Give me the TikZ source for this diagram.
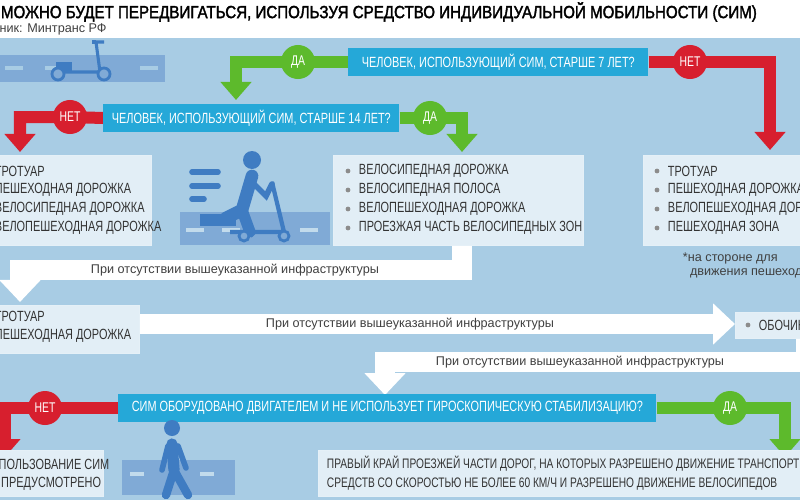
\documentclass[tikz,border=0pt]{standalone}
\usepackage{fontspec}
\setmainfont{Liberation Sans}
\newfontfamily\cond[FakeStretch=0.74]{Liberation Sans}
\newfontfamily\condb[FakeStretch=0.86,FakeBold=2]{Liberation Sans}
\usetikzlibrary{arrows.meta,backgrounds}
\definecolor{bgblue}{HTML}{A8CCE4}
\definecolor{boxblue}{HTML}{E2EEF6}
\definecolor{qblue}{HTML}{25A8D8}
\definecolor{icon}{HTML}{3F7CC2}
\definecolor{road}{HTML}{80AAD6}
\definecolor{ggreen}{HTML}{5DBA2C}
\definecolor{rred}{HTML}{D71F2E}
\tikzset{
	question/.style={fill=qblue, text=white, font=\cond\fontsize{10.5}{12}\selectfont,
					 inner sep=0pt, minimum height=0.7cm, anchor=west},
	listbox/.style={fill=boxblue, anchor=north west, inner sep=0pt,
					draw=white!70!bgblue, line width=0.4pt},
	item/.style={font=\cond\fontsize{10.5}{13}\selectfont, text=black!80, anchor=west},
	yes/.style={circle, fill=ggreen, text=white, minimum size=0.85cm, inner sep=0pt,
				font=\cond\fontsize{10}{12}\selectfont},
	no/.style={yes, fill=rred},
	garrow/.style={draw=ggreen, line width=0.3cm,
				   -{Triangle[width=0.75cm,length=0.45cm]}},
	rarrow/.style={garrow, draw=rred},
	warrow/.style={draw=white, line width=0.5cm,
				   -{Triangle[width=1.0cm,length=0.55cm]}},
	wtext/.style={font=\fontsize{9}{11}\selectfont, text=black!75},
	bul/.style={circle, fill=black!45, inner sep=0pt, minimum size=0.12cm}
}
\begin{document}
\begin{tikzpicture}[x=0.025cm, y=-0.025cm]
	\useasboundingbox (0,0) rectangle (800,500);
	\clip (0,0) rectangle (800,500);
	% header
	\node[anchor=west, font=\condb\fontsize{12.5}{15}\selectfont] (title) at (-4,12)
		{МОЖНО БУДЕТ ПЕРЕДВИГАТЬСЯ, ИСПОЛЬЗУЯ СРЕДСТВО ИНДИВИДУАЛЬНОЙ МОБИЛЬНОСТИ (СИМ)};
	\node[anchor=west, font=\fontsize{9}{11}\selectfont, text=black!75] (src) at (-12,29)
		{чник: Минтранс РФ};
	\begin{scope}[on background layer]
		\fill[bgblue] (0,38) rectangle (800,500);
	\end{scope}

	% questions
	\node[question, minimum width=7.5cm] (q1) at (348,62)
		{ЧЕЛОВЕК, ИСПОЛЬЗУЮЩИЙ СИМ, СТАРШЕ 7 ЛЕТ?};
	\node[question, minimum width=7.4cm] (q2) at (103,118)
		{ЧЕЛОВЕК, ИСПОЛЬЗУЮЩИЙ СИМ, СТАРШЕ 14 ЛЕТ?};
	\node[question, minimum width=13.45cm] (q3) at (118,408)
		{СИМ ОБОРУДОВАНО ДВИГАТЕЛЕМ И НЕ ИСПОЛЬЗУЕТ ГИРОСКОПИЧЕСКУЮ СТАБИЛИЗАЦИЮ?};

	\node[yes] (da1) at (298,62) {ДА};
	\node[no] (net1) at (690,62) {НЕТ};
	\node[no] (net2) at (70,117) {НЕТ};
	\node[yes] (da2) at (430,118) {ДА};
	\node[no] (net3) at (45,408) {НЕТ};
	\node[yes] (da3) at (730,408) {ДА};

	% boxes
	\node[listbox, minimum width=3.9cm, minimum height=2.25cm] (left1) at (-5,155) {};
	\foreach \t [count=\i] in {ТРОТУАР, ПЕШЕХОДНАЯ ДОРОЖКА, ВЕЛОСИПЕДНАЯ ДОРОЖКА, ВЕЛОПЕШЕХОДНАЯ ДОРОЖКА}
		\node[item] (l1t\i) at (-10,{152+\i*19}) {\t};
	\node[listbox, minimum width=6.25cm, minimum height=2.25cm] (mid1) at (333,155) {};
	\foreach \t [count=\i] in {ВЕЛОСИПЕДНАЯ ДОРОЖКА, ВЕЛОСИПЕДНАЯ ПОЛОСА, ВЕЛОПЕШЕХОДНАЯ ДОРОЖКА, ПРОЕЗЖАЯ ЧАСТЬ ВЕЛОСИПЕДНЫХ ЗОН}{
		\node[bul] (m1b\i) at (348,{152+\i*19}) {};
		\node[item] (m1t\i) at (354,{152+\i*19}) {\t};}
	\node[listbox, minimum width=5cm, minimum height=2.25cm] (right1) at (643,155) {};
	\foreach \t [count=\i] in {ТРОТУАР, ПЕШЕХОДНАЯ ДОРОЖКА, ВЕЛОПЕШЕХОДНАЯ ДОРОЖКА, ПЕШЕХОДНАЯ ЗОНА}{
		\node[bul] (r1b\i) at (657,{152+\i*19}) {};
		\node[item] (r1t\i) at (663,{152+\i*19}) {\t};}
	\node[anchor=north west, align=left, font=\fontsize{9}{10}\selectfont, text=black!75] (note)
		at (678,248) {*на стороне для\\\ \ движения пешеходов};

	\node[listbox, minimum width=3.6cm, minimum height=1.2cm] (left2) at (-5,305) {};
	\node[item] (l2t1) at (-10,316) {ТРОТУАР};
	\node[item] (l2t2) at (-10,336) {ПЕШЕХОДНАЯ ДОРОЖКА};
	\node[listbox, minimum width=2cm, minimum height=0.65cm] (obo) at (735,312) {};
	\node[bul] (ob) at (748,325) {};
	\node[item] (obt) at (754,325) {ОБОЧИНА};

	\node[listbox, minimum width=2.7cm, minimum height=1.15cm] (left3) at (-5,450) {};
	\node[item] (l3t1) at (-22,464) {ИСПОЛЬЗОВАНИЕ СИМ};
	\node[item] (l3t2) at (-22,484) {НЕ ПРЕДУСМОТРЕНО};
	\node[listbox, minimum width=12.5cm, minimum height=1.15cm] (right3) at (318,450) {};
	\node[item, font=\cond\fontsize{9.8}{12}\selectfont] (r3t1) at (322,464) {ПРАВЫЙ КРАЙ ПРОЕЗЖЕЙ ЧАСТИ ДОРОГ, НА КОТОРЫХ РАЗРЕШЕНО ДВИЖЕНИЕ ТРАНСПОРТНЫХ};
	\node[item, font=\cond\fontsize{9.8}{12}\selectfont] (r3t2) at (322,484) {СРЕДСТВ СО СКОРОСТЬЮ НЕ БОЛЕЕ 60 КМ/Ч И РАЗРЕШЕНО ДВИЖЕНИЕ ВЕЛОСИПЕДОВ};

	% white arrow labels
	\node[wtext] (w1) at (235,270) {При отсутствии вышеуказанной инфраструктуры};
	\node[wtext] (w2) at (410,324) {При отсутствии вышеуказанной инфраструктуры};
	\node[wtext] (w3) at (580,362) {При отсутствии вышеуказанной инфраструктуры};

	% connectors
	\begin{scope}[on background layer]
		\coordinate (c1) at (236,100);
		\coordinate (c2) at (770,150);
		\coordinate (c3) at (20,152);
		\coordinate (c4) at (462,152);
		\coordinate (c5) at (5,457);
		\coordinate (c6) at (785,457);
		\coordinate (c7) at (20,302);
		\coordinate (c8) at (385,395);
		\draw[garrow] (q1.west) -- (da1.center) -| (c1);
		\draw[rarrow] (q1.east) -- (net1.center) -| (c2);
		\draw[rarrow] (q2.west) -- (net2.center) -| (c3);
		\draw[garrow] (q2.east) -- (da2.center) -| (c4);
		\draw[rarrow] (q3.west) -- (net3.center) -| (c5);
		\draw[garrow] (q3.east) -- (da3.center) -| (c6);
		\draw[warrow] (mid1.south -| c4) |- (w1.center) -| (c7);
		\draw[warrow] (left2.east |- w2.center) -- (obo.west |- w2.center);
		\draw[warrow] ([xshift=-0.25cm]obo.south east) |- (w3.center) -| (c8);
	\end{scope}

	% scooter icon
	\fill[road] (0,55) rectangle (165,82);
	\foreach \x in {5,45,140} \fill[bgblue] (\x,66) rectangle ++(18,4);
	\draw[icon, line width=2.2pt] (60,72) -- (100,72) -- (96,42) -- (104,42);
	\draw[icon, line width=2.2pt] (92,42) -- (96,42);
	\fill[icon] (56,62) rectangle (72,72);
	\filldraw[icon, fill=road, line width=2pt] (58,74) circle (6) (104,74) circle (6);

	% rider icon
	\fill[road] (180,212) rectangle (330,245);
	\foreach \x in {186,222,300} \fill[bgblue!70!white] (\x,228) rectangle ++(18,4);
	\foreach \y/\l in {172/26,186/26,199/12} \draw[icon, line width=4pt, line cap=round] (192,\y) -- ++(\l,0);
	\fill[icon] (252,160) circle (9);
	\draw[icon, line width=9pt, line cap=round] (252,176) -- (242,210) -- (226,218);
	\draw[icon, line width=8pt, line cap=round] (242,210) -- (250,232);
	\draw[icon, line width=4pt, line cap=round] (252,182) -- (266,196) -- (272,184);
	\draw[icon, line width=3pt] (272,182) -- (284,232) -- (230,232);
	\fill[icon] (200,214) rectangle (236,226);
	\filldraw[icon, fill=road, line width=2pt] (244,236) circle (5) (284,236) circle (5);

	% pedestrian icon
	\fill[road] (122,460) rectangle (235,495);
	\foreach \x in {130,200} \fill[bgblue!70!white] (\x,472) rectangle ++(14,4);
	\fill[icon] (172,428) circle (8);
	\draw[icon, line width=8pt, line cap=round] (172,444) -- (174,470);
	\draw[icon, line width=6pt, line cap=round] (174,470) -- (166,495) (174,470) -- (188,495);
	\draw[icon, line width=4pt, line cap=round] (168,446) -- (162,470) (178,446) -- (186,468);
\end{tikzpicture}
\end{document}
